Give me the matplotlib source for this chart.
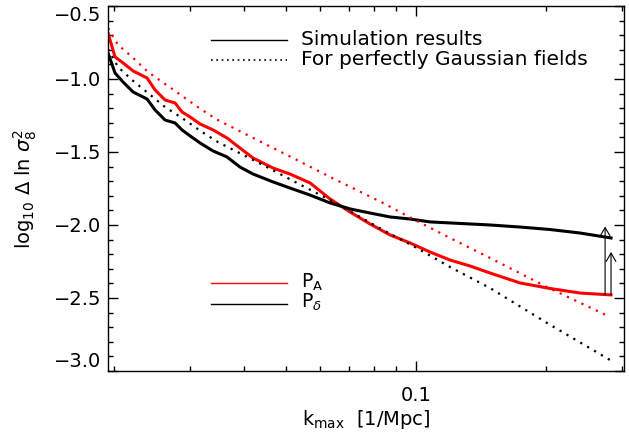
import matplotlib
matplotlib.use('Agg')
import matplotlib.pyplot as plt
from matplotlib.ticker import FixedLocator, NullFormatter, FixedFormatter

plt.rcParams['font.family'] = ['DejaVu Sans']
plt.rcParams['mathtext.fontset'] = 'dejavusans'

# simulation results (solid)
k_sim = [0.01936, 0.02010, 0.02098, 0.02213, 0.02384, 0.02488, 0.02624, 0.02767,
         0.02873, 0.02999, 0.03162, 0.03389, 0.03651, 0.03913, 0.04194, 0.04667,
         0.05108, 0.05685, 0.06325, 0.07036, 0.07825, 0.08705, 0.09685, 0.10775,
         0.1199, 0.1334, 0.1484, 0.1741, 0.2043, 0.2397, 0.2828]
pA_sim = [-0.685, -0.849, -0.890, -0.945, -0.993, -1.075, -1.144, -1.164,
          -1.226, -1.260, -1.308, -1.349, -1.404, -1.473, -1.541, -1.610,
          -1.651, -1.712, -1.822, -1.911, -1.993, -2.068, -2.123, -2.185,
          -2.240, -2.281, -2.329, -2.397, -2.435, -2.466, -2.479]
pd_sim = [-0.822, -0.959, -1.021, -1.089, -1.137, -1.212, -1.281, -1.301,
          -1.349, -1.390, -1.438, -1.493, -1.534, -1.603, -1.651, -1.705,
          -1.747, -1.795, -1.849, -1.890, -1.918, -1.945, -1.959, -1.979,
          -1.986, -1.993, -2.000, -2.014, -2.031, -2.055, -2.089]

# perfectly gaussian fields (dotted)
k_gauss = [0.01936, 0.02043, 0.02201, 0.02396, 0.02624, 0.02873, 0.03195, 0.03479,
           0.04423, 0.05302, 0.06325, 0.08386, 0.1005, 0.1199, 0.1484, 0.2010, 0.2813]
pA_gauss = [-0.651, -0.767, -0.849, -0.952, -1.034, -1.116, -1.212, -1.281,
            -1.438, -1.555, -1.671, -1.849, -1.973, -2.089, -2.226, -2.425, -2.630]
pd_gauss = [-0.795, -0.918, -1.007, -1.096, -1.192, -1.267, -1.363, -1.432,
            -1.589, -1.712, -1.829, -2.034, -2.158, -2.288, -2.432, -2.671, -2.925]

# arrows: (k, from, to)
arrows = [(0.274, -2.479, -2.01), (0.2828, -2.479, -2.185)]

fig = plt.figure(figsize=(6.29, 4.34), dpi=100)
ax = fig.add_axes([0.1717, 0.1452, 0.8203, 0.841])

dot = (0, (1, 2.6))
ax.plot(k_sim, pA_sim, color='red', lw=2.2)
ax.plot(k_sim, pd_sim, color='black', lw=2.2)
ax.plot(k_gauss, pA_gauss, color='red', lw=1.6, linestyle=dot)
ax.plot(k_gauss, pd_gauss, color='black', lw=1.6, linestyle=dot)

for k, y0, y1 in arrows:
    ax.annotate('', xy=(k, y1), xytext=(k, y0),
                arrowprops=dict(arrowstyle='->, head_length=0.6, head_width=0.35',
                                color='black', lw=0.8, shrinkA=0, shrinkB=0))

ax.set_xscale('log')
ax.set_xlim(0.01936, 0.303)
ax.set_ylim(-3.0, -0.5)

ax.xaxis.set_major_locator(FixedLocator([0.1]))
ax.xaxis.set_major_formatter(FixedFormatter(['0.1']))
ax.xaxis.set_minor_locator(FixedLocator([0.02, 0.03, 0.04, 0.05, 0.06, 0.07, 0.08, 0.09, 0.2, 0.3]))
ax.xaxis.set_minor_formatter(NullFormatter())
ax.yaxis.set_major_locator(FixedLocator([-3.0, -2.5, -2.0, -1.5, -1.0, -0.5]))
ax.yaxis.set_major_formatter(FixedFormatter(['\u22123.0', '\u22122.5', '\u22122.0', '\u22121.5', '\u22121.0', '\u22120.5']))
ax.yaxis.set_minor_locator(FixedLocator([-3.0 + 0.1 * i for i in range(26)]))

ax.tick_params(which='both', direction='in', top=True, right=True, width=1, labelsize=14)
ax.tick_params(which='major', length=7)
ax.tick_params(which='minor', length=3.5)
ax.tick_params(axis='x', pad=11)
ax.tick_params(axis='y', pad=5)
for s in ax.spines.values():
    s.set_linewidth(1.0)

ax.set_xlabel(r'k$_{\rm max}$  [1/Mpc]', fontsize=14, labelpad=2)
ax.set_ylabel(r'log$_{10}$ $\Delta$ ln $\sigma_8^2$', fontsize=14)
ax.yaxis.set_label_coords(-0.133, 0.5)

# legends drawn by hand
tr = ax.transAxes
ax.plot([0.1996, 0.347], [0.907, 0.907], color='black', lw=1.0, transform=tr)
ax.plot([0.1996, 0.347], [0.852, 0.852], color='black', lw=1.2, linestyle=(0, (1, 2.2)), transform=tr)
ax.text(0.374, 0.893, 'Simulation results', fontsize=14.5, va='baseline', transform=tr)
ax.text(0.374, 0.838, 'For perfectly Gaussian fields', fontsize=14.5, va='baseline', transform=tr)

ax.plot([0.1996, 0.347], [0.241, 0.241], color='red', lw=1.0, transform=tr)
ax.plot([0.1996, 0.347], [0.1836, 0.1836], color='black', lw=1.0, transform=tr)
ax.text(0.374, 0.228, r'P$_{\rm A}$', fontsize=13.5, va='baseline', transform=tr)
ax.text(0.374, 0.1726, r'P$_\delta$', fontsize=13.5, va='baseline', transform=tr)

fig.canvas.draw()
labels = ax.get_yticklabels()
labels[0].set_va('bottom')
labels[-1].set_va('top')

fig.savefig('out.png', dpi=100)
